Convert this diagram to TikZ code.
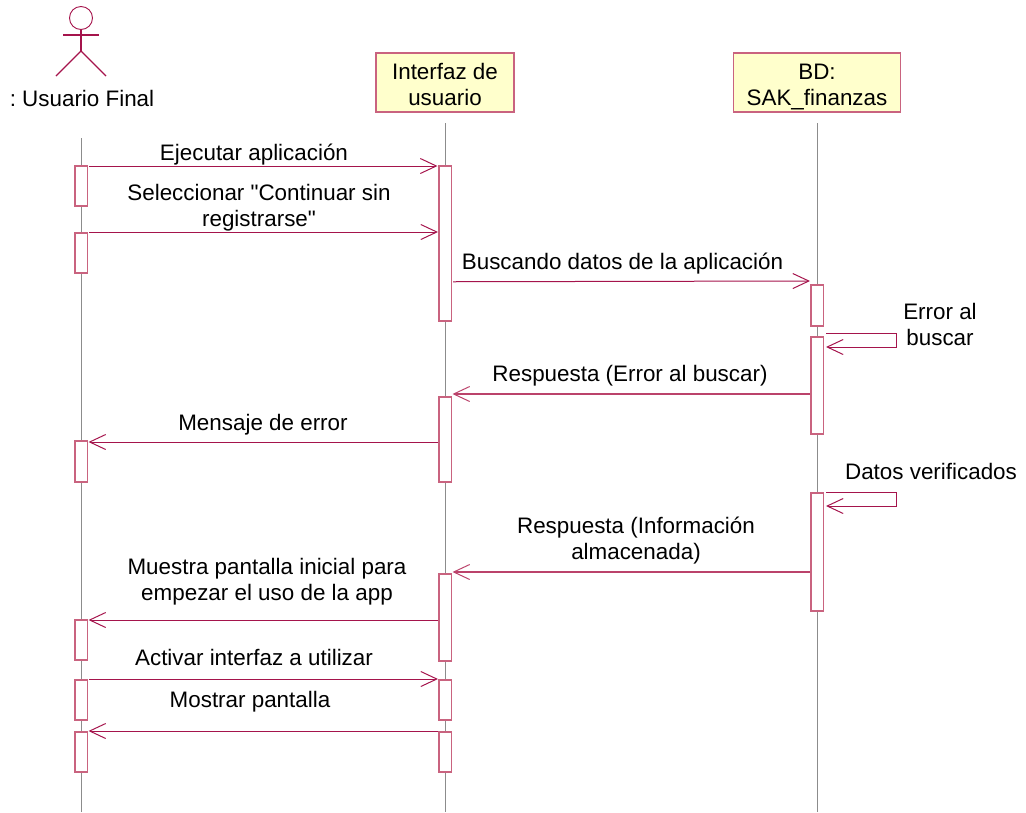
\documentclass[tikz,border=0pt]{standalone}
\usepackage{fontspec}
\newfontfamily\plainsans{Liberation Sans}
\usetikzlibrary{arrows.meta,calc}
\definecolor{rose}{HTML}{A5144C}
\definecolor{softrose}{HTML}{C9637F}
\definecolor{noteyellow}{HTML}{FFFFCC}
\definecolor{lifegray}{HTML}{8C8C8C}
\tikzset{
  lifeline/.style={draw=lifegray,line width=1pt},
  obj/.style={draw=softrose,fill=noteyellow,line width=1.5pt,rectangle,inner sep=0pt,minimum height=59pt,align=center,font=\plainsans\frenchspacing\fontsize{22.4pt}{26pt}\selectfont,text=black},
  act/.style={draw=softrose,fill=white,line width=1.5pt,rectangle,inner sep=0pt,minimum width=12.5pt,anchor=north},
  msg/.style={draw=rose,line width=1pt,-{Straight Barb[length=16pt,width=15pt,line width=1pt]}},
  msgsoft/.style={msg,draw=softrose!60!rose,line width=1.4pt},
  lbl/.style={inner sep=0pt,align=center,font=\plainsans\frenchspacing\fontsize{22.4pt}{26pt}\selectfont,text=black},
  limb/.style={draw=rose,line width=1.2pt},
}
\newcommand{\tophold}{\rule{0pt}{24pt}}
\newcommand{\bothold}{\rule[-5pt]{0pt}{5pt}}
\begin{document}
\begin{tikzpicture}[x=1pt,y=-1pt]
\useasboundingbox (0,0) rectangle (1026,812);
% coordinates of the lifelines
\coordinate (ux) at (81,138);
\coordinate (ix) at (445,123);
\coordinate (bx) at (817,123);
\coordinate (uend) at (81,812);
\coordinate (iend) at (445,812);
\coordinate (bend) at (817,812);
\draw[lifeline] (ux) -- (uend);
\draw[lifeline] (ix) -- (iend);
\draw[lifeline] (bx) -- (bend);
% actor
\node[draw=rose,line width=0.9pt,circle,minimum size=23pt,inner sep=0pt,fill=white] (head) at (81,18) {};
\coordinate (neck) at (81,51);
\coordinate (armL) at (63,35);
\coordinate (armR) at (99,35);
\coordinate (legL) at (56,76);
\coordinate (legR) at (106,76);
\draw[limb] (head.south) -- (neck);
\draw[limb] (armL) -- (armR);
\draw[limb] (legL) -- (neck) -- (legR);
\node[lbl] (actorlbl) at (82,98) {: Usuario Final};
% objects
\node[obj,minimum width=138pt] (iface) at (445,82.5) {\tophold Interfaz de\\usuario\bothold};
\node[obj,minimum width=167pt] (bd) at (817,82.5) {\tophold BD:\\SAK\_finanzas\bothold};
% activations
\newcommand{\actbox}[4]{\node[act,minimum height=#4pt] (#1) at (#2,#3) {};}
\actbox{ua}{81}{165}{40}
\actbox{ub}{81}{232}{40}
\actbox{uc}{81}{440}{41}
\actbox{ud}{81}{619}{40}
\actbox{ue}{81}{679}{40}
\actbox{uf}{81}{731}{40}
\actbox{ia}{445}{165}{155}
\actbox{ib}{445}{396}{85}
\actbox{ic}{445}{573}{87}
\actbox{id}{445}{679}{40}
\actbox{ie}{445}{731}{40}
\actbox{ba}{817}{284}{41}
\actbox{bb}{817}{336}{97}
\actbox{bc}{817}{492}{118}
% messages
\draw[msg] ($(ua.north east)+(1,1)$) -- ($(ia.north west)+(-0.5,1)$);
\draw[msg] ($(ub.north east)+(1,0)$) -- (ub.north east -| ia.west);
\draw[msg] ($(ia.east)+(1,38.5)$) -- ($(ba.north west)+(0,-3)$);
\coordinate (s1a) at ($(bb.north east)+(2,-3)$);
\coordinate (s1b) at ($(s1a)+(70,0)$);
\coordinate (s1c) at ($(s1b)+(0,14)$);
\coordinate (s1d) at ($(s1a)+(0,14)$);
\draw[msg] (s1a) -- (s1b) -- (s1c) -- (s1d);
\draw[msgsoft] ($(bb.north west)+(0,58)$) -- ($(ib.north east)+(0.5,-2)$);
\draw[msg] (uc.north -| ia.west) ++(0,2) -- ($(uc.north east)+(0.5,2)$);
\coordinate (s2a) at ($(bc.north east)+(2,0)$);
\coordinate (s2b) at ($(s2a)+(70,0)$);
\coordinate (s2c) at ($(s2b)+(0,14)$);
\coordinate (s2d) at ($(s2a)+(0,14)$);
\draw[msg] (s2a) -- (s2b) -- (s2c) -- (s2d);
\draw[msgsoft] ($(bc.north west)+(0,80)$) -- ($(ic.north east)+(0.5,-1)$);
\draw[msg] ($(ud.north -| ic.west)+(0,1)$) -- ($(ud.north east)+(0.5,1)$);
\draw[msg] ($(ue.north east)+(1,0)$) -- (ue.north east -| id.west);
\draw[msg] (uf.north -| ie.west) -- ($(uf.north east)+(0.5,0)$);
% labels
\node[lbl] (m1) at (254,154.5) {Ejecutar aplicación};
\node[lbl] (m2) at (259,207.5) {Seleccionar "Continuar sin\\registrarse"};
\node[lbl] (m3) at (622.5,263.5) {Buscando datos de la aplicación};
\node[lbl] (m4) at (940,324) {Error al\\buscar};
\node[lbl] (m5) at (630,376) {Respuesta (Error al buscar)};
\node[lbl] (m6) at (263,425) {Mensaje de error};
\node[lbl] (m7) at (931,471) {Datos verificados};
\node[lbl] (m8) at (636,540.5) {Respuesta (Información\\almacenada)};
\node[lbl] (m9) at (267,582) {Muestra pantalla inicial para\\empezar el uso de la app};
\node[lbl] (m10) at (254,657) {Activar interfaz a utilizar};
\node[lbl] (m11) at (250,702) {Mostrar pantalla};
\end{tikzpicture}
\end{document}
